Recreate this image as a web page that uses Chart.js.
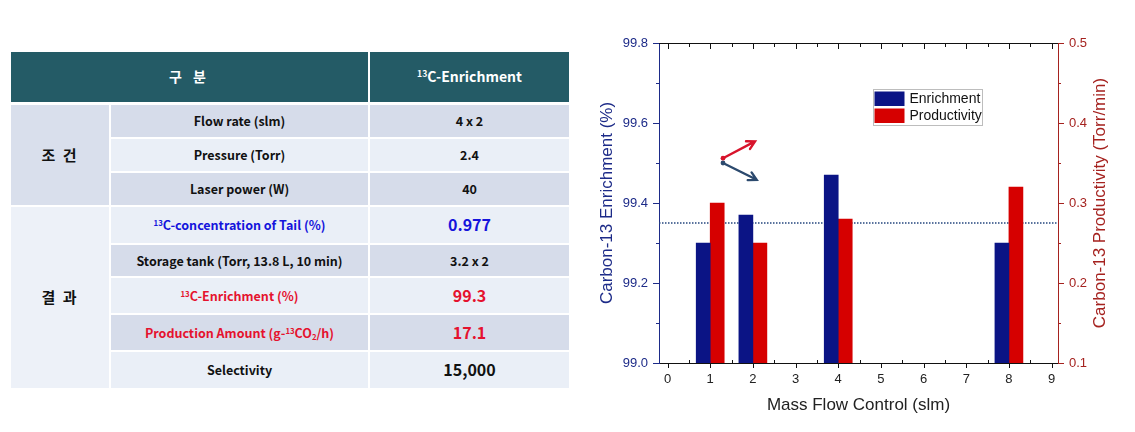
<!DOCTYPE html>
<html>
<head>
<meta charset="utf-8">
<script src="https://cdn.jsdelivr.net/npm/chart.js@4.4.1/dist/chart.umd.min.js"></script>
<style>
  html, body { margin: 0; padding: 0; background: #fff; width: 1135px; height: 432px; overflow: hidden; }
  #tbl {
    position: absolute; left: 11px; top: 52px; width: 558px;
    border-collapse: separate; border-spacing: 0; table-layout: fixed;
    font-family: "Noto Sans CJK KR", "Noto Sans", sans-serif; font-weight: bold;
    font-size: 12.5px; color: #111; text-align: center;
  }
  #tbl td, #tbl th { padding: 0; border-right: 2px solid #fff; border-bottom: 2px solid #fff; line-height: 1.1; }
  #tbl td:last-child, #tbl th:last-child { border-right: 0; }
  #tbl th { background: #245b66; color: #fff; font-size: 14px; border-bottom-width: 3px; }
  #tbl th.wide { letter-spacing: 4px; }
  #tbl sup { font-size: 0.62em; vertical-align: 0.55em; line-height: 0; }
  #tbl sub { font-size: 0.62em; vertical-align: -0.2em; line-height: 0; }
  .dark { background: #d6dcea; }
  .light { background: #eaeff7; }
  .grp1 { background: #d9dfec; font-size: 15px; letter-spacing: 2px; }
  .grp2 { background: #edf1f8; font-size: 15px; letter-spacing: 2px; }
  .blue { color: #1414dc; }
  .red { color: #e5122e; }
  .big { font-size: 16px; }
  #wrap { position: absolute; left: 590px; top: 0; width: 545px; height: 432px; }
</style>
</head>
<body>
<table id="tbl">
  <colgroup><col style="width:100px"><col style="width:259px"><col style="width:199px"></colgroup>
  <tr style="height:53px"><th class="wide" colspan="2">구 분</th><th><sup>13</sup>C-Enrichment</th></tr>
  <tr style="height:34px"><td class="grp1" rowspan="3">조 건</td><td class="dark">Flow rate (slm)</td><td class="dark">4 x 2</td></tr>
  <tr style="height:34px"><td class="light">Pressure (Torr)</td><td class="light">2.4</td></tr>
  <tr style="height:34px"><td class="dark">Laser power (W)</td><td class="dark">40</td></tr>
  <tr style="height:38px"><td class="grp2" rowspan="5">결 과</td><td class="light blue"><sup>13</sup>C-concentration of Tail (%)</td><td class="light blue big">0.977</td></tr>
  <tr style="height:33px"><td class="dark">Storage tank (Torr, 13.8 L, 10 min)</td><td class="dark">3.2 x 2</td></tr>
  <tr style="height:37px"><td class="light red"><sup>13</sup>C-Enrichment (%)</td><td class="light red big">99.3</td></tr>
  <tr style="height:37px"><td class="dark red">Production Amount (g-<sup>13</sup>CO<sub>2</sub>/h)</td><td class="dark red big">17.1</td></tr>
  <tr style="height:38px"><td class="light">Selectivity</td><td class="light big">15,000</td></tr>
</table>

<div id="wrap"><canvas id="chart" width="545" height="432"></canvas></div>

<script>
  // data
  const flowRates = [1, 2, 4, 8];
  const enrichment = [99.30, 99.37, 99.47, 99.30];
  const productivity = [0.30, 0.25, 0.28, 0.32];
  const referenceLevel = 99.35;

  const xTickValues = [0, 1, 2, 3, 4, 5, 6, 7, 8, 9];
  const leftTickValues = [99.0, 99.2, 99.4, 99.6, 99.8];
  const rightTickValues = [0.1, 0.2, 0.3, 0.4, 0.5];
  const xMin = -0.2;
  const xMax = 9.15;

  // the two arrows, in data units (x, left axis)
  const redArrow = [[1.3, 99.512], [2.05, 99.554]];
  const blueArrow = [[1.3, 99.50], [2.09, 99.458]];

  const navy = '#1d2b88';
  const darkRed = '#a5221f';
  const enrichColor = '#0b1485';
  const prodColor = '#d60000';

  Chart.defaults.font.family = 'Arial, "Liberation Sans", sans-serif';

  function midpoints(arr) {
    const out = [];
    for (let i = 0; i < arr.length - 1; i++) out.push((arr[i] + arr[i + 1]) / 2);
    return out;
  }

  const decor = {
    id: 'decor',
    afterDraw(chart) {
      const { ctx, chartArea: a, scales } = chart;
      const x = scales.x, yl = scales.y, yr = scales.y1;
      ctx.save();
      ctx.lineWidth = 1;

      // top frame line
      ctx.strokeStyle = '#111';
      ctx.beginPath();
      ctx.moveTo(a.left, a.top + 0.5);
      ctx.lineTo(a.right, a.top + 0.5);
      ctx.stroke();

      // x tick marks (bottom out / minor in, top in)
      ctx.beginPath();
      xTickValues.forEach(v => {
        const px = Math.round(x.getPixelForValue(v)) + 0.5;
        ctx.moveTo(px, a.bottom); ctx.lineTo(px, a.bottom + 5);
        ctx.moveTo(px, a.top); ctx.lineTo(px, a.top + 6);
      });
      midpoints(xTickValues).forEach(v => {
        const px = Math.round(x.getPixelForValue(v)) + 0.5;
        ctx.moveTo(px, a.bottom); ctx.lineTo(px, a.bottom - 3);
        ctx.moveTo(px, a.top); ctx.lineTo(px, a.top + 4);
      });
      ctx.stroke();

      // left ticks
      ctx.strokeStyle = navy;
      ctx.beginPath();
      leftTickValues.forEach(v => {
        const py = Math.round(yl.getPixelForValue(v)) + 0.5;
        ctx.moveTo(a.left, py); ctx.lineTo(a.left - 6, py);
      });
      midpoints(leftTickValues).forEach(v => {
        const py = Math.round(yl.getPixelForValue(v)) + 0.5;
        ctx.moveTo(a.left, py); ctx.lineTo(a.left - 3, py);
      });
      ctx.stroke();

      // right ticks
      ctx.strokeStyle = darkRed;
      ctx.beginPath();
      rightTickValues.forEach(v => {
        const py = Math.round(yr.getPixelForValue(v)) + 0.5;
        ctx.moveTo(a.right, py); ctx.lineTo(a.right + 6, py);
      });
      midpoints(rightTickValues).forEach(v => {
        const py = Math.round(yr.getPixelForValue(v)) + 0.5;
        ctx.moveTo(a.right, py); ctx.lineTo(a.right + 3, py);
      });
      ctx.stroke();

      // arrows
      function arrow(pts, color) {
        const x0 = x.getPixelForValue(pts[0][0]), y0 = yl.getPixelForValue(pts[0][1]);
        const x1 = x.getPixelForValue(pts[1][0]), y1 = yl.getPixelForValue(pts[1][1]);
        const ang = Math.atan2(y1 - y0, x1 - x0);
        ctx.strokeStyle = color;
        ctx.fillStyle = color;
        ctx.lineWidth = 2.4;
        ctx.lineCap = 'round';
        ctx.beginPath();
        ctx.moveTo(x0, y0); ctx.lineTo(x1, y1);
        ctx.moveTo(x1 - 9 * Math.cos(ang - 0.5), y1 - 9 * Math.sin(ang - 0.5));
        ctx.lineTo(x1, y1);
        ctx.lineTo(x1 - 9 * Math.cos(ang + 0.5), y1 - 9 * Math.sin(ang + 0.5));
        ctx.stroke();
        ctx.beginPath();
        ctx.arc(x0, y0, 2.4, 0, Math.PI * 2);
        ctx.fill();
      }
      arrow(blueArrow, '#2c4a6e');
      arrow(redArrow, '#d8142c');

      // legend box
      const lx = a.left + 213.5, ly = a.top + 46;
      ctx.lineWidth = 1;
      ctx.strokeStyle = '#bdbdbd';
      ctx.strokeRect(Math.round(lx) + 0.5, Math.round(ly) + 0.5, 109, 36);
      ctx.fillStyle = enrichColor;
      ctx.fillRect(lx + 2, ly + 2.5, 30, 14.5);
      ctx.fillStyle = prodColor;
      ctx.fillRect(lx + 2, ly + 19.5, 30, 14.5);
      ctx.fillStyle = '#111';
      ctx.font = '14px Arial, "Liberation Sans", sans-serif';
      ctx.textBaseline = 'middle';
      ctx.textAlign = 'left';
      chart.data.datasets.slice(0, 2).forEach((d, i) => {
        ctx.fillText(d.label, lx + 37, ly + 10 + i * 17);
      });

      // right axis title, reading bottom to top
      ctx.save();
      ctx.translate(chart.width - 35, (a.top + a.bottom) / 2);
      ctx.rotate(-Math.PI / 2);
      ctx.fillStyle = darkRed;
      ctx.font = '17px Arial, "Liberation Sans", sans-serif';
      ctx.textAlign = 'center';
      ctx.fillText('Carbon-13 Productivity (Torr/min)', 0, 0);
      ctx.restore();

      ctx.restore();
    }
  };

  new Chart(document.getElementById('chart'), {
    type: 'bar',
    data: {
      datasets: [{
        label: 'Enrichment',
        data: flowRates.map((f, i) => ({ x: f, y: enrichment[i] })),
        backgroundColor: enrichColor,
        yAxisID: 'y',
        base: leftTickValues[0],
        barThickness: 14,
        stack: 'e',
        order: 1
      }, {
        label: 'Productivity',
        data: flowRates.map((f, i) => ({ x: f, y: productivity[i] })),
        backgroundColor: prodColor,
        yAxisID: 'y1',
        base: rightTickValues[0],
        barThickness: 14,
        stack: 'p',
        order: 1
      }, {
        type: 'line',
        label: 'level',
        data: [{ x: xMin, y: referenceLevel }, { x: xMax, y: referenceLevel }],
        borderColor: '#24457e',
        borderWidth: 1.4,
        borderDash: [1.5, 1.5],
        pointRadius: 0,
        yAxisID: 'y',
        order: 2
      }]
    },
    options: {
      responsive: false,
      animation: false,
      layout: { padding: { top: 43, left: 0, right: 0, bottom: 0 } },
      plugins: { legend: { display: false }, tooltip: { enabled: false } },
      scales: {
        x: {
          type: 'linear',
          offset: false,
          min: xMin,
          max: xMax,
          afterBuildTicks: s => { s.ticks = xTickValues.map(v => ({ value: v })); },
          afterFit: s => { s.height = 69; },
          grid: { display: false, drawTicks: true, tickLength: 5 },
          border: { display: true, color: '#111', width: 1 },
          ticks: { color: '#222', font: { size: 13 }, padding: 4, maxRotation: 0 },
          title: { display: true, text: 'Mass Flow Control (slm)', color: '#222', font: { size: 17 }, padding: { top: 0, bottom: 16 } }
        },
        y: {
          position: 'left',
          min: leftTickValues[0],
          max: leftTickValues[leftTickValues.length - 1],
          afterBuildTicks: s => { s.ticks = leftTickValues.map(v => ({ value: v })); },
          afterFit: s => { s.width = 69; },
          grid: { display: false, drawTicks: true, tickLength: 6 },
          border: { display: true, color: navy, width: 1 },
          ticks: { color: navy, font: { size: 13 }, padding: 5, callback: v => v.toFixed(1) },
          title: { display: true, text: 'Carbon-13 Enrichment (%)', color: navy, font: { size: 17 }, padding: { top: 7, bottom: 0 } }
        },
        y1: {
          position: 'right',
          min: rightTickValues[0],
          max: rightTickValues[rightTickValues.length - 1],
          afterBuildTicks: s => { s.ticks = rightTickValues.map(v => ({ value: v })); },
          afterFit: s => { s.width = 77; },
          grid: { display: false, drawTicks: true, tickLength: 6 },
          border: { display: true, color: darkRed, width: 1 },
          ticks: { color: darkRed, font: { size: 13 }, padding: 5, callback: v => v.toFixed(1) }
        }
      }
    },
    plugins: [decor]
  });
</script>
</body>
</html>
